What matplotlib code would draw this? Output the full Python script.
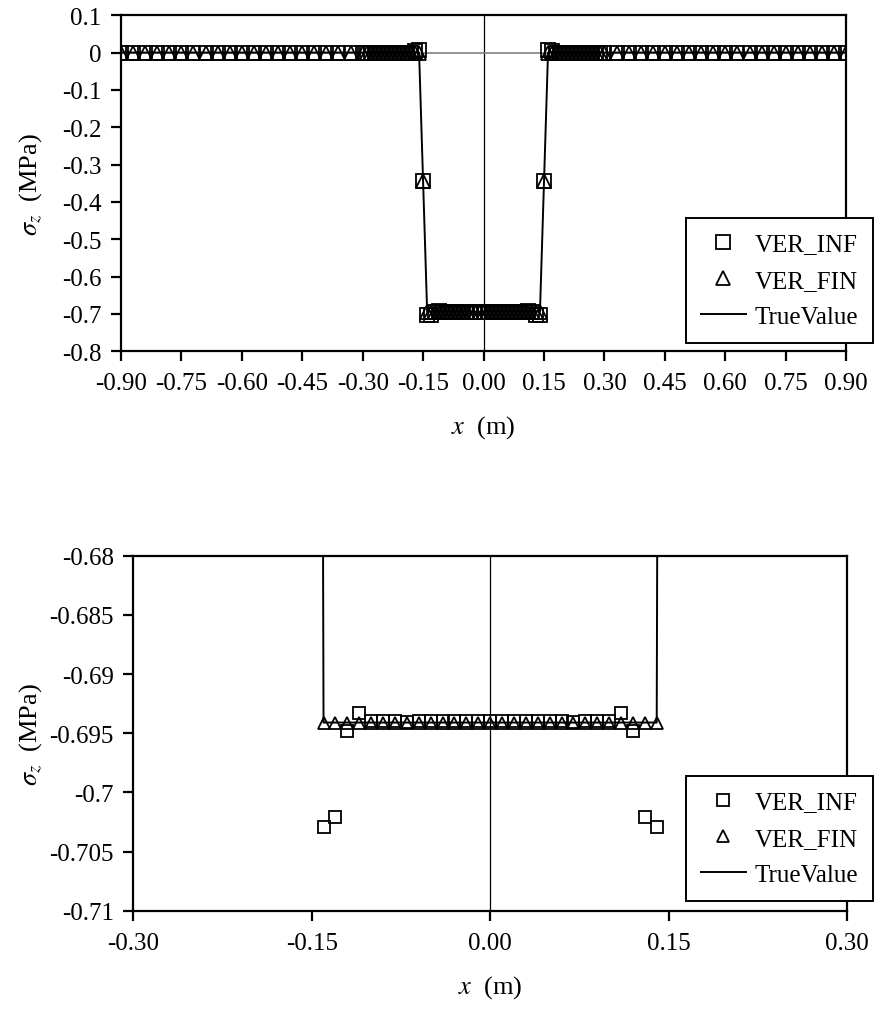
import numpy as np
import matplotlib
matplotlib.use('Agg')
import matplotlib.pyplot as plt
from matplotlib.ticker import FuncFormatter, MultipleLocator

plt.rcParams['font.family'] = ['Liberation Serif', 'DejaVu Serif']
plt.rcParams['mathtext.fontset'] = 'stix'
plt.rcParams['axes.unicode_minus'] = False

# sample positions (m)
x_far_left = [-0.90, -0.87, -0.84, -0.81, -0.78, -0.75, -0.72, -0.69, -0.66, -0.63, -0.60,
              -0.57, -0.54, -0.51, -0.48, -0.45, -0.42, -0.39, -0.36, -0.33, -0.30]
x_near = [-0.29, -0.28, -0.27, -0.26, -0.25, -0.24, -0.23, -0.22, -0.21, -0.20, -0.19, -0.18,
          -0.17, -0.16, -0.15, -0.14, -0.13, -0.12, -0.11, -0.10, -0.09, -0.08, -0.07, -0.06,
          -0.05, -0.04, -0.03, -0.02, -0.01, 0.00, 0.01, 0.02, 0.03, 0.04, 0.05, 0.06, 0.07,
          0.08, 0.09, 0.10, 0.11, 0.12, 0.13, 0.14, 0.15, 0.16, 0.17, 0.18, 0.19, 0.20, 0.21,
          0.22, 0.23, 0.24, 0.25, 0.26, 0.27, 0.28, 0.29]
x_far_right = [0.30, 0.33, 0.36, 0.39, 0.42, 0.45, 0.48, 0.51, 0.54, 0.57, 0.60,
               0.63, 0.66, 0.69, 0.72, 0.75, 0.78, 0.81, 0.84, 0.87, 0.90]

# far field values (zero stress) - same for all three series
far_zero = [0.0, 0.0, 0.0, 0.0, 0.0, 0.0, 0.0, 0.0, 0.0, 0.0, 0.0,
            0.0, 0.0, 0.0, 0.0, 0.0, 0.0, 0.0, 0.0, 0.0, 0.0]

# near field values, x = -0.29 .. 0.29
inf_near = [0.0, 0.0, 0.0, 0.0, 0.0, 0.0, 0.0, 0.0, 0.0, 0.0, 0.0, 0.0,
            0.003, 0.006, -0.345, -0.7029, -0.7021, -0.6948, -0.6933, -0.6940, -0.6940, -0.6940,
            -0.69405, -0.6940, -0.6940, -0.6940, -0.6940, -0.6940, -0.6940, -0.6940, -0.6940,
            -0.6940, -0.6940, -0.6940, -0.6940, -0.6940, -0.69405, -0.6940, -0.6940, -0.6940,
            -0.6933, -0.6948, -0.7021, -0.7029, -0.345, 0.006, 0.003,
            0.0, 0.0, 0.0, 0.0, 0.0, 0.0, 0.0, 0.0, 0.0, 0.0, 0.0, 0.0]
fin_near = [0.0, 0.0, 0.0, 0.0, 0.0, 0.0, 0.0, 0.0, 0.0, 0.0, 0.0, 0.0,
            0.0, 0.0, -0.345, -0.6941, -0.6941, -0.6941, -0.6941, -0.6941, -0.6941, -0.6941,
            -0.6941, -0.6941, -0.6941, -0.6941, -0.6941, -0.6941, -0.6941, -0.6941, -0.6941,
            -0.6941, -0.6941, -0.6941, -0.6941, -0.6941, -0.6941, -0.6941, -0.6941, -0.6941,
            -0.6941, -0.6941, -0.6941, -0.6941, -0.345, 0.0, 0.0,
            0.0, 0.0, 0.0, 0.0, 0.0, 0.0, 0.0, 0.0, 0.0, 0.0, 0.0, 0.0]
true_near = [0.0, 0.0, 0.0, 0.0, 0.0, 0.0, 0.0, 0.0, 0.0, 0.0, 0.0, 0.0,
             0.0, 0.0, -0.347, -0.6941, -0.6941, -0.6941, -0.6941, -0.6941, -0.6941, -0.6941,
             -0.6941, -0.6941, -0.6941, -0.6941, -0.6941, -0.6941, -0.6941, -0.6941, -0.6941,
             -0.6941, -0.6941, -0.6941, -0.6941, -0.6941, -0.6941, -0.6941, -0.6941, -0.6941,
             -0.6941, -0.6941, -0.6941, -0.6941, -0.347, 0.0, 0.0,
             0.0, 0.0, 0.0, 0.0, 0.0, 0.0, 0.0, 0.0, 0.0, 0.0, 0.0, 0.0]

x = np.array(x_far_left + x_near + x_far_right)
ver_inf = np.array(far_zero + inf_near + far_zero)
ver_fin = np.array(far_zero + fin_near + far_zero)
true_val = np.array(far_zero + true_near + far_zero)

fig = plt.figure(figsize=(8.76, 10.12), dpi=100)
ax1 = fig.add_axes([0.138, 0.652, 0.828, 0.332])
ax2 = fig.add_axes([0.152, 0.099, 0.815, 0.351])


def draw(ax, ms):
    ax.axvline(0, color='black', lw=0.9, zorder=1)
    ax.plot(x, ver_inf, ls='none', marker='s', ms=ms, mfc='none', mec='black', mew=1.3,
            label='VER_INF', zorder=3)
    ax.plot(x, ver_fin, ls='none', marker='^', ms=ms, mfc='none', mec='black', mew=1.3,
            label='VER_FIN', zorder=4)
    ax.plot(x, true_val, color='black', lw=1.4, label='TrueValue', zorder=2)
    for s in ax.spines.values():
        s.set_linewidth(1.6)
    ax.tick_params(direction='out', length=7, width=1.6, labelsize=18)
    ax.tick_params(axis='x', pad=8)
    ax.tick_params(axis='y', pad=7)
    ax.set_xlabel(r'$x$  (m)', fontsize=19, labelpad=14)
    ax.set_ylabel(r'$\sigma_z$  (MPa)', fontsize=19)


def add_legend(ax, top):
    leg = ax.legend(loc='upper right', bbox_to_anchor=(0.9966, top),
                    bbox_transform=fig.transFigure, borderaxespad=0,
                    fontsize=18, frameon=True, fancybox=False, edgecolor='black',
                    framealpha=1, handlelength=1.8, handletextpad=0.35,
                    labelspacing=0.55, borderpad=0.6)
    leg.get_frame().set_linewidth(1.4)


# top: full range
draw(ax1, 9.5)
ax1.axhline(0, color='gray', lw=1.2, zorder=1)
ax1.set_xlim(-0.9, 0.9)
ax1.set_ylim(-0.8, 0.1)
ax1.xaxis.set_major_locator(MultipleLocator(0.15))
ax1.yaxis.set_major_locator(MultipleLocator(0.1))
ax1.xaxis.set_major_formatter(FuncFormatter(lambda v, p: '%.2f' % v))
ax1.yaxis.set_major_formatter(FuncFormatter(lambda v, p: '0' if abs(v) < 1e-9 else '%.1f' % v))
ax1.yaxis.set_label_coords(-0.106, 0.5)
add_legend(ax1, 1 - 219 / 1012)

# bottom: zoom on the loaded zone
draw(ax2, 9)
ax2.set_xlim(-0.3, 0.3)
ax2.set_ylim(-0.71, -0.68)
ax2.xaxis.set_major_locator(MultipleLocator(0.15))
ax2.yaxis.set_major_locator(MultipleLocator(0.005))
ax2.xaxis.set_major_formatter(FuncFormatter(lambda v, p: '%.2f' % v))
ax2.yaxis.set_major_formatter(FuncFormatter(lambda v, p: '%g' % round(v, 3)))
ax2.yaxis.set_label_coords(-0.125, 0.5)
add_legend(ax2, 1 - 777 / 1012)

plt.savefig('out.png', dpi=100)
